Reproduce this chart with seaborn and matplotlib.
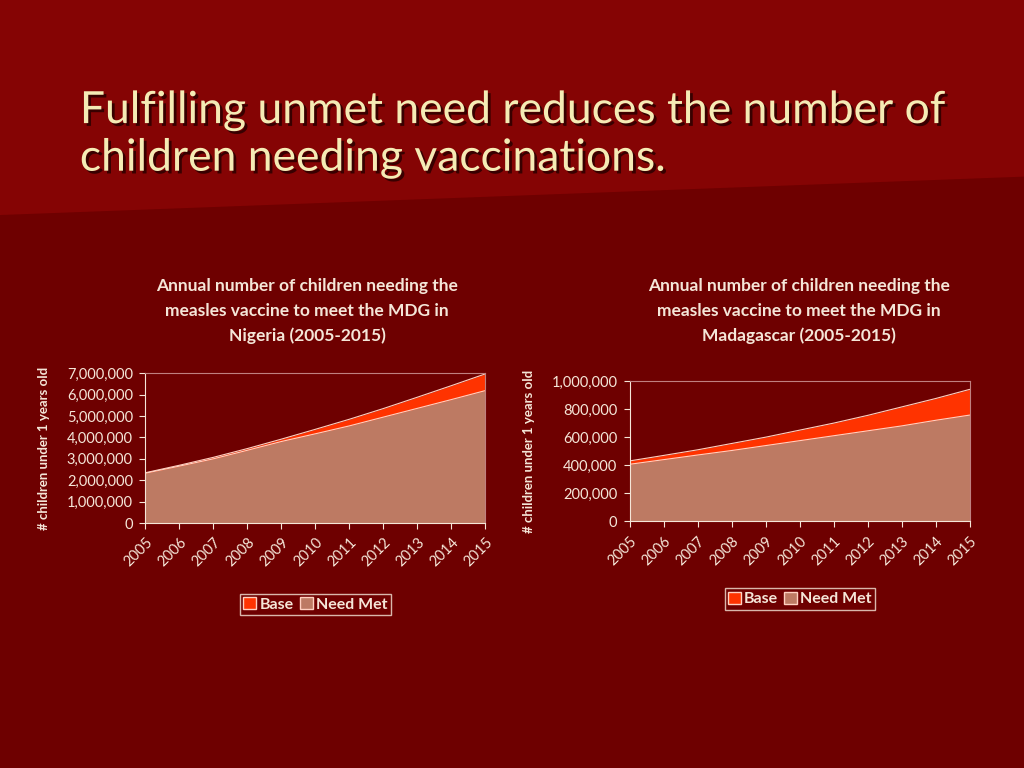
import matplotlib
matplotlib.use("Agg")
import matplotlib.pyplot as plt
import seaborn as sns
from matplotlib.patches import Patch, Polygon
from matplotlib.ticker import FuncFormatter
import matplotlib.patheffects as pe

years = list(range(2005, 2016))
nigeria_base = [2.35e6, 2.70e6, 3.07e6, 3.48e6, 3.92e6, 4.38e6, 4.85e6, 5.35e6, 5.88e6, 6.42e6, 6.97e6]
nigeria_met = [2.33e6, 2.66e6, 3.00e6, 3.40e6, 3.81e6, 4.17e6, 4.54e6, 4.95e6, 5.36e6, 5.77e6, 6.19e6]
madag_base = [431e3, 470e3, 510e3, 555e3, 600e3, 650e3, 700e3, 755e3, 815e3, 875e3, 940e3]
madag_met = [407e3, 440e3, 473e3, 505e3, 540e3, 575e3, 610e3, 645e3, 680e3, 720e3, 757e3]

BG = "#6e0000"
BASE_C = "#ff3300"
MET_C = "#bd7a63"
TXT = "#f5e6d8"
FONT = "Lato"

sns.set_style("white")
fig = plt.figure(figsize=(10.24, 7.68), dpi=100)
fig.patch.set_facecolor(BG)

# lighter title band
band = Polygon([[0, 1], [1, 1], [1, 0.77], [0, 0.72]], closed=True,
               transform=fig.transFigure, facecolor="#850404", edgecolor="none", zorder=0)
fig.patches.append(band)

fig.text(0.078, 0.825, "Fulfilling unmet need reduces the number of\nchildren needing vaccinations.",
         fontsize=32, color="#f5ebb5", family=FONT, va="center",
         linespacing=1.2, path_effects=[pe.withSimplePatchShadow(offset=(2, -2), shadow_rgbFace="#300000", alpha=0.9)])

def panel(rect, base, met, title, ymax, step, title_x):
    ax = fig.add_axes(rect)
    ax.set_facecolor(BG)
    ax.fill_between(years, 0, base, color=BASE_C, lw=0)
    ax.fill_between(years, 0, met, color=MET_C, lw=0)
    sns.lineplot(x=years, y=base, ax=ax, color="#ffd0c0", lw=0.8)
    sns.lineplot(x=years, y=met, ax=ax, color="#ffd0c0", lw=0.8)
    ax.set_xlim(2005, 2015)
    ax.set_ylim(0, ymax)
    ax.set_yticks(range(0, int(ymax) + 1, step))
    ax.yaxis.set_major_formatter(FuncFormatter(lambda v, p: f"{int(v):,}"))
    ax.set_xticks(years)
    ax.set_xticklabels([str(y) for y in years], rotation=45, ha="right", rotation_mode="anchor")
    for s in ax.spines.values():
        s.set_color("#c08080")
        s.set_linewidth(0.8)
    ax.spines["left"].set_color(TXT)
    ax.spines["bottom"].set_color(TXT)
    ax.tick_params(colors=TXT, labelsize=10.5, length=4, direction="out", left=True, bottom=True, pad=5)
    for lab in ax.get_xticklabels() + ax.get_yticklabels():
        lab.set_family(FONT)
        lab.set_color(TXT)
    ax.set_ylabel("# children under 1 years old", color=TXT, fontsize=9.5, fontweight="bold", family=FONT,
                  labelpad=12)
    fig.text(title_x, 0.595, title, ha="center", va="center", color=TXT, fontsize=12.5,
             fontweight="bold", family=FONT, linespacing=1.65)
    leg = ax.legend(handles=[Patch(facecolor=BASE_C, edgecolor="#ffd0c0", label="Base"),
                             Patch(facecolor=MET_C, edgecolor="#ffd0c0", label="Need Met")],
                    loc="upper center", bbox_to_anchor=(0.5, -0.42), ncol=2, frameon=True,
                    handlelength=0.8, handleheight=0.8, handletextpad=0.2, columnspacing=0.4,
                    borderpad=0.2, prop={"family": FONT, "weight": "bold", "size": 11.5})
    leg.get_frame().set_facecolor(BG)
    leg.get_frame().set_edgecolor(TXT)
    leg.get_frame().set_boxstyle("square", pad=0)
    for t in leg.get_texts():
        t.set_color(TXT)
    return ax

panel([0.142, 0.319, 0.332, 0.195], nigeria_base, nigeria_met,
      "Annual number of children needing the\nmeasles vaccine to meet the MDG in\nNigeria (2005-2015)", 7e6, 1000000, 0.30)
panel([0.615, 0.321, 0.332, 0.183], madag_base, madag_met,
      "Annual number of children needing the\nmeasles vaccine to meet the MDG in\nMadagascar (2005-2015)", 1e6, 200000, 0.78)

plt.savefig("out.png", dpi=100, facecolor=fig.get_facecolor())
